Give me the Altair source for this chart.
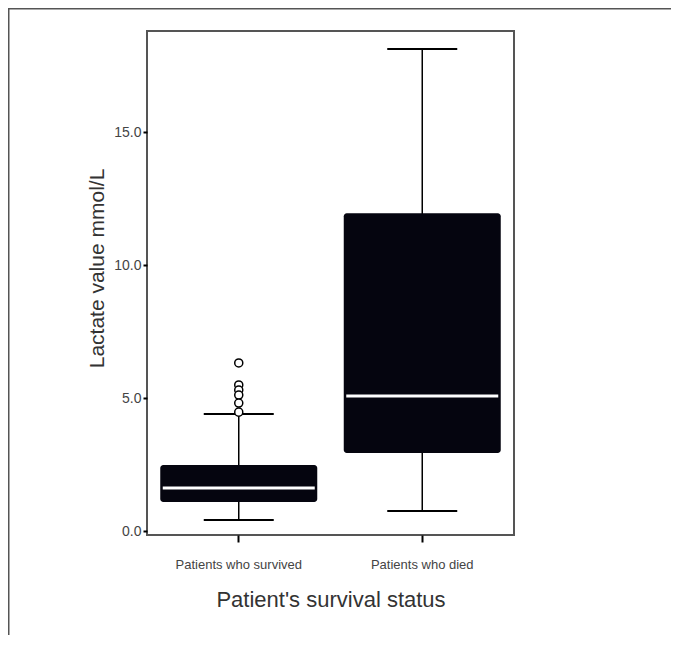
import altair as alt
import pandas as pd

groups = ["Patients who survived", "Patients who died"]
whisker_low = [0.41, 0.75]
q1 = [1.09, 2.93]
median = [1.62, 5.08]
q3 = [2.48, 11.95]
whisker_high = [4.40, 18.12]

outlier_values = [6.32, 5.49, 5.30, 5.11, 4.81, 4.47]
outlier_groups = ["Patients who survived"] * len(outlier_values)

y_ticks = [0, 5, 10, 15]

box_df = pd.DataFrame({
    "group": groups, "low": whisker_low, "q1": q1,
    "median": median, "q3": q3, "high": whisker_high,
})
out_df = pd.DataFrame({"group": outlier_groups, "value": outlier_values})
frame_df = pd.DataFrame({"k": [0]})

font = "Liberation Sans"
xscale = alt.Scale(type="band", domain=groups, paddingInner=0, paddingOuter=0)
yscale = alt.Scale(domain=[-0.15, 18.8], nice=False, zero=False)

x_enc = alt.X("group:N", scale=xscale, sort=groups,
              axis=alt.Axis(title="Patient's survival status"))
y_axis = alt.Axis(title="Lactate value mmol/L", values=y_ticks, format=".1f",
                  titleY=237)

base = alt.Chart(box_df)

whisk = base.mark_rule(color="black", strokeWidth=1.5).encode(
    x=x_enc,
    y=alt.Y("low:Q", scale=yscale, axis=y_axis),
    y2="high:Q",
)

box = base.mark_bar(size=157, color="#05050f", cornerRadius=3).encode(
    x=x_enc,
    y=alt.Y("q1:Q", scale=yscale),
    y2="q3:Q",
)

med = base.mark_tick(color="white", size=152, thickness=3, opacity=1).encode(
    x=x_enc,
    y=alt.Y("median:Q", scale=yscale),
)

caps = base.transform_fold(["low", "high"], as_=["which", "v"]).mark_tick(
    color="black", size=70, thickness=2, opacity=1
).encode(
    x=x_enc,
    y=alt.Y("v:Q", scale=yscale),
)

outs = alt.Chart(out_df).mark_point(
    shape="circle", size=65, stroke="black", strokeWidth=1.5, fill="white",
    filled=False, opacity=1, fillOpacity=1
).encode(
    x=alt.X("group:N", scale=xscale, sort=groups),
    y=alt.Y("value:Q", scale=yscale),
)

frame_left = alt.Chart(frame_df).mark_rule(color="#555555", strokeWidth=2).encode(
    x=alt.value(-138.5), y=alt.value(-23), y2=alt.value(620)
)
frame_top = alt.Chart(frame_df).mark_rule(color="#555555", strokeWidth=2).encode(
    x=alt.value(-139), x2=alt.value(540), y=alt.value(-22.5)
)

chart = alt.layer(whisk, box, med, caps, outs, frame_left, frame_top).properties(
    width=367,
    height=504,
    autosize=alt.AutoSizeParams(type="none"),
    padding={"left": 139, "top": 23, "right": 157, "bottom": 100},
).configure_view(
    stroke="#555555", strokeWidth=2
).configure_axis(
    grid=False, domain=False, tickColor="black", tickWidth=2,
    labelFont=font, titleFont=font, labelColor="#444444", titleColor="#333333",
    titleFontWeight="normal",
).configure_axisY(
    tickSize=4, labelFontSize=14, labelPadding=2, titleFontSize=21, titlePadding=6,
).configure_axisX(
    tickSize=7, labelFontSize=13, labelPadding=16, labelAngle=0,
    titleFontSize=22, titlePadding=18,
)

chart.save("out.html", embed_options={"renderer": "svg", "actions": False})
